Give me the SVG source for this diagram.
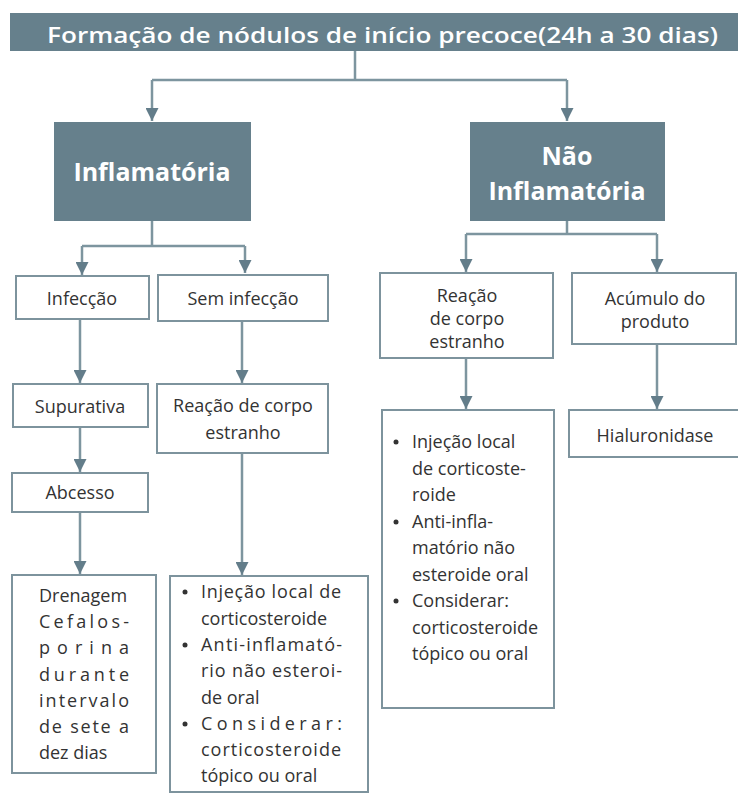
<svg xmlns="http://www.w3.org/2000/svg" width="738" height="807" viewBox="0 0 738 807">
<defs>
<marker id="arr" viewBox="0 0 12 12" refX="12" refY="6" markerWidth="13" markerHeight="13" markerUnits="userSpaceOnUse" orient="auto">
<path d="M0,0 L12,6 L0,12 z" fill="#637d8a"/>
</marker>
<style>
.dark{fill:#66808c;}
.box{fill:#ffffff;stroke:#7d939d;stroke-width:2;}
.conn{fill:none;stroke:#7d959f;stroke-width:2.5;}
.t{font-family:"Open Sans","DejaVu Sans",sans-serif;font-size:18px;fill:#333333;}
.c{text-anchor:middle;}
.w{font-family:"Open Sans","DejaVu Sans",sans-serif;fill:#ffffff;}
.hb{font-size:25px;font-weight:bold;text-anchor:middle;}
.dot{fill:#333333;}
</style>
</defs>
<rect width="738" height="807" fill="#ffffff"/>

<g id="connectors">
<path class="conn" d="M355,51 V80 M152,80 H567"/>
<path class="conn" d="M152,80 V121" marker-end="url(#arr)"/>
<path class="conn" d="M567,80 V121" marker-end="url(#arr)"/>
<path class="conn" d="M152,221 V246 M82,246 H245"/>
<path class="conn" d="M82,246 V275" marker-end="url(#arr)"/>
<path class="conn" d="M245,246 V273" marker-end="url(#arr)"/>
<path class="conn" d="M567,221 V234 M466,234 H657"/>
<path class="conn" d="M466,234 V272" marker-end="url(#arr)"/>
<path class="conn" d="M657,234 V272" marker-end="url(#arr)"/>
<path class="conn" d="M80,319 V383" marker-end="url(#arr)"/>
<path class="conn" d="M80,427 V472" marker-end="url(#arr)"/>
<path class="conn" d="M80,512 V574" marker-end="url(#arr)"/>
<path class="conn" d="M242,321 V383" marker-end="url(#arr)"/>
<path class="conn" d="M242,453 V575" marker-end="url(#arr)"/>
<path class="conn" d="M466,358 V409" marker-end="url(#arr)"/>
<path class="conn" d="M657,344 V409" marker-end="url(#arr)"/>
</g>

<g id="header">
<rect class="dark" x="10" y="13" width="740" height="38"/>
<text class="w" x="47" y="43" font-size="22" font-weight="600" textLength="671" lengthAdjust="spacingAndGlyphs">Formação de nódulos de início precoce(24h a 30 dias)</text>
</g>

<g id="inflamatoria">
<rect class="dark" x="54" y="122" width="197" height="99"/>
<text class="w hb" x="152" y="181">Inflamatória</text>
</g>

<g id="nao-inflamatoria">
<rect class="dark" x="470" y="122" width="195" height="99"/>
<text class="w hb" x="567" y="165">Não</text>
<text class="w hb" x="567" y="200">Inflamatória</text>
</g>

<g id="infeccao">
<rect class="box" x="16" y="276" width="133" height="43"/>
<text class="t c" x="82" y="305">Infecção</text>
</g>

<g id="sem-infeccao">
<rect class="box" x="158" y="275" width="170" height="46"/>
<text class="t c" x="243" y="305">Sem infecção</text>
</g>

<g id="reacao-direita">
<rect class="box" x="380" y="273" width="173" height="85"/>
<text class="t c" x="467" y="302">Reação</text>
<text class="t c" x="467" y="325">de corpo</text>
<text class="t c" x="467" y="348">estranho</text>
</g>

<g id="acumulo">
<rect class="box" x="572" y="273" width="164" height="71"/>
<text class="t c" x="655" y="305">Acúmulo do</text>
<text class="t c" x="655" y="328">produto</text>
</g>

<g id="supurativa">
<rect class="box" x="13" y="384" width="135" height="43"/>
<text class="t c" x="80" y="413">Supurativa</text>
</g>

<g id="abcesso">
<rect class="box" x="12" y="473" width="136" height="39"/>
<text class="t c" x="80" y="499">Abcesso</text>
</g>

<g id="reacao-esquerda">
<rect class="box" x="157" y="384" width="171" height="69"/>
<text class="t c" x="243" y="412">Reação de corpo</text>
<text class="t c" x="243" y="439">estranho</text>
</g>

<g id="drenagem">
<rect class="box" x="12" y="575" width="144" height="198"/>
<text class="t" x="39" y="602">Drenagem</text>
<text class="t" x="39" y="628" textLength="90" lengthAdjust="spacing">Cefalos-</text>
<text class="t" x="39" y="654" textLength="90" lengthAdjust="spacing">porina</text>
<text class="t" x="39" y="681" textLength="90" lengthAdjust="spacing">durante</text>
<text class="t" x="39" y="707" textLength="90" lengthAdjust="spacing">intervalo</text>
<text class="t" x="39" y="733" textLength="90" lengthAdjust="spacing">de sete a</text>
<text class="t" x="39" y="759">dez dias</text>
</g>

<g id="tratamento-esquerda">
<rect class="box" x="170" y="576" width="198" height="216"/>
<circle class="dot" cx="185" cy="592" r="2.5"/>
<circle class="dot" cx="185" cy="645" r="2.5"/>
<circle class="dot" cx="185" cy="724" r="2.5"/>
<text class="t" x="201" y="598" textLength="140" lengthAdjust="spacing">Injeção local de</text>
<text class="t" x="201" y="624.5">corticosteroide</text>
<text class="t" x="201" y="651" textLength="141" lengthAdjust="spacing">Anti-inflamató-</text>
<text class="t" x="201" y="677" textLength="141" lengthAdjust="spacing">rio não esteroi-</text>
<text class="t" x="201" y="703.5">de oral</text>
<text class="t" x="201" y="730" textLength="141" lengthAdjust="spacing">Considerar:</text>
<text class="t" x="201" y="756" textLength="140" lengthAdjust="spacing">corticosteroide</text>
<text class="t" x="201" y="782">tópico ou oral</text>
</g>

<g id="tratamento-direita">
<rect class="box" x="382" y="410" width="172" height="298"/>
<circle class="dot" cx="396" cy="442" r="2.5"/>
<circle class="dot" cx="396" cy="522" r="2.5"/>
<circle class="dot" cx="396" cy="601" r="2.5"/>
<text class="t" x="412" y="448">Injeção local</text>
<text class="t" x="412" y="474.5">de corticoste-</text>
<text class="t" x="412" y="501">roide</text>
<text class="t" x="412" y="527.5">Anti-infla-</text>
<text class="t" x="412" y="554">matório não</text>
<text class="t" x="412" y="580.5">esteroide oral</text>
<text class="t" x="412" y="607">Considerar:</text>
<text class="t" x="412" y="633.5">corticosteroide</text>
<text class="t" x="412" y="660">tópico ou oral</text>
</g>

<g id="hialuronidase">
<rect class="box" x="569" y="410" width="180" height="47"/>
<text class="t c" x="655" y="442">Hialuronidase</text>
</g>
</svg>
